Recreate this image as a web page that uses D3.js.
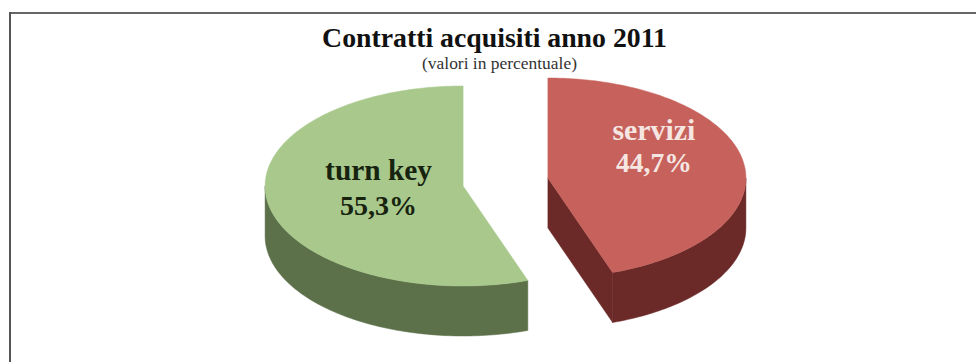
<!DOCTYPE html>
<html>
<head>
<meta charset="utf-8">
<script src="https://cdn.jsdelivr.net/npm/d3@7"></script>
<style>
  html, body { margin: 0; padding: 0; background: #fff; }
  svg { display: block; }
  text { font-family: "Liberation Serif", "Times New Roman", serif; }
</style>
</head>
<body>
<svg id="chart" width="976" height="362"></svg>
<script>
// Chart data
const categories = ["servizi", "turn key"];
const values = [44.7, 55.3];
const titleText = "Contratti acquisiti anno 2011";
const subtitleText = "(valori in percentuale)";

// Styles
const topColor = { "servizi": "#c6615b", "turn key": "#a9c98c" };
const sideColor = { "servizi": "#6b2927", "turn key": "#5c704a" };
const labelColor = { "servizi": "#f6e6e2", "turn key": "#17230f" };

const W = 976, H = 362;
const svg = d3.select("#chart");

// Frame lines (top and left)
svg.append("line").attr("x1", 9).attr("x2", W).attr("y1", 13).attr("y2", 13)
  .attr("stroke", "#666").attr("stroke-width", 2);
svg.append("line").attr("x1", 10).attr("x2", 10).attr("y1", 12).attr("y2", H)
  .attr("stroke", "#555").attr("stroke-width", 2);

// 3D pie geometry
const cx = 505.5, cy = 182;
const rx = 198, ry = 100, depth = 50;
const explodeX = 43, explodeY = 24;

const pie = d3.pie().sort(null).value(d => d.value);
const arcs = pie(categories.map((c, i) => ({ name: c, value: values[i] })));

const pt = (o, a, dz = 0) => [o[0] + rx * Math.sin(a), o[1] - ry * Math.cos(a) + dz];
const sampleAngles = (a0, a1) => {
  const n = Math.max(2, Math.ceil((a1 - a0) / 0.02));
  return d3.range(n + 1).map(i => a0 + (a1 - a0) * i / n);
};
const line = d3.line();

const g = svg.append("g");

arcs.forEach(d => {
  const mid = (d.startAngle + d.endAngle) / 2;
  const o = [cx + explodeX * Math.sin(mid), cy - explodeY * Math.cos(mid)];
  d.origin = o;
  const name = d.data.name;
  const sg = g.append("g");

  // Cut faces that face the viewer
  [[d.startAngle, -Math.sin(d.startAngle)], [d.endAngle, Math.sin(d.endAngle)]].forEach(([a, vis]) => {
    if (vis > 1e-6) {
      const p = pt(o, a);
      const poly = [o, p, [p[0], p[1] + depth], [o[0], o[1] + depth]];
      sg.append("path").attr("d", line(poly) + "Z")
        .attr("fill", sideColor[name]).attr("stroke", sideColor[name]).attr("stroke-width", 0.5);
    }
  });

  // Outer side wall (front half only)
  const s0 = Math.max(d.startAngle, Math.PI / 2);
  const s1 = Math.min(d.endAngle, 3 * Math.PI / 2);
  if (s1 > s0) {
    const angs = sampleAngles(s0, s1);
    const poly = angs.map(a => pt(o, a)).concat(angs.slice().reverse().map(a => pt(o, a, depth)));
    sg.append("path").attr("d", line(poly) + "Z")
      .attr("fill", sideColor[name]).attr("stroke", sideColor[name]).attr("stroke-width", 0.5);
  }

  // Top face
  const topPoly = [o].concat(sampleAngles(d.startAngle, d.endAngle).map(a => pt(o, a)));
  sg.append("path").attr("d", line(topPoly) + "Z")
    .attr("fill", topColor[name]).attr("stroke", topColor[name]).attr("stroke-width", 0.5);
});

// Text helpers
function fitWidth(sel, target) {
  const w = sel.node().getComputedTextLength();
  const fs = parseFloat(sel.attr("font-size"));
  sel.attr("font-size", (fs * target / w).toFixed(2));
}

const locale = d3.formatLocale({ decimal: ",", thousands: ".", grouping: [3], currency: ["", "€"] });
const fmt = locale.format(".1f");

// Title and subtitle
const title = svg.append("text").attr("x", 494.5).attr("y", 47)
  .attr("text-anchor", "middle").attr("font-weight", "bold").attr("font-size", 24)
  .attr("fill", "#111").text(titleText);
fitWidth(title, 345);

const sub = svg.append("text").attr("x", 499.5).attr("y", 69)
  .attr("text-anchor", "middle").attr("font-size", 12)
  .attr("fill", "#333").text(subtitleText);
fitWidth(sub, 155);

// Slice labels, placed relative to each slice's apex
const labelLayout = {
  "servizi": { dx: 106, y1: -38, y2: -6, w1: 83, w2: 76 },
  "turn key": { dx: -84.5, y1: -6, y2: 29, w1: 107, w2: 77 }
};
arcs.forEach(d => {
  const name = d.data.name;
  const L = labelLayout[name];
  const x = d.origin[0] + L.dx;
  const t1 = svg.append("text").attr("x", x).attr("y", d.origin[1] + L.y1)
    .attr("text-anchor", "middle").attr("font-weight", "bold").attr("font-size", 24)
    .attr("fill", labelColor[name]).text(name);
  fitWidth(t1, L.w1);
  const t2 = svg.append("text").attr("x", x).attr("y", d.origin[1] + L.y2)
    .attr("text-anchor", "middle").attr("font-weight", "bold").attr("font-size", 24)
    .attr("fill", labelColor[name]).text(fmt(d.data.value) + "%");
  fitWidth(t2, L.w2);
});
</script>
</body>
</html>
